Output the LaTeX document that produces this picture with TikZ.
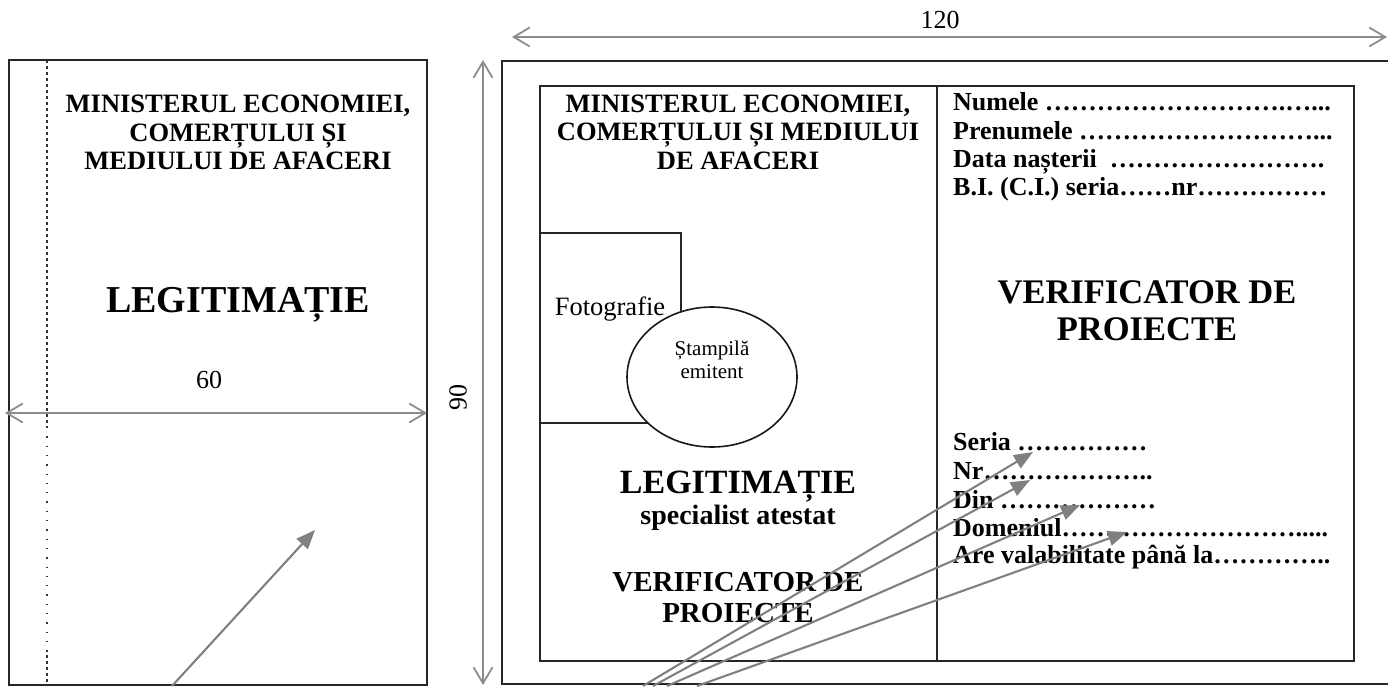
\documentclass[tikz,border=0pt]{standalone}
\usepackage{fontspec}
\setmainfont{Liberation Serif}
\usetikzlibrary{arrows.meta,shapes.geometric}
\begin{document}
\begin{tikzpicture}[x=1pt,y=-1pt,
  card/.style={draw=black!85, line width=1.9pt},
  inner/.style={draw=black!85, line width=1.6pt},
  dimline/.style={draw=black!45, line width=1.8pt, {Straight Barb[length=16pt,width=19pt]}-{Straight Barb[length=16pt,width=19pt]}},
  pointer/.style={draw=black!50, line width=2.1pt, -{Triangle[length=19pt,width=15pt]}},
  txt/.style={inner sep=0pt, anchor=base},
  head/.style={txt, font=\bfseries\fontsize{26.5}{28}\selectfont},
  field/.style={inner sep=0pt, anchor=base west, font=\bfseries\fontsize{26}{28}\selectfont},
  dimtxt/.style={txt, font=\fontsize{26}{28}\selectfont},
]
\useasboundingbox (0,0) rectangle (1388,686);

% ---------- left card ----------
\draw[card] (9,60) rectangle (427,685);
\draw[black!80, line width=1.4pt, dash pattern=on 3pt off 3pt] (47,60) -- (47,427);
\draw[black!80, line width=1.4pt, dash pattern=on 1.3pt off 8pt] (47,427) -- (47,655);
\draw[black!80, line width=1.4pt, dash pattern=on 3pt off 3pt] (47,655) -- (47,685);

\node[head] (lm1) at (238,112) {MINISTERUL ECONOMIEI,};
\node[head] (lm2) at (238,141) {COMERȚULUI ȘI};
\node[head] (lm3) at (238,169) {MEDIULUI DE AFACERI};
\node[txt, font=\bfseries\fontsize{38}{40}\selectfont] (llegit) at (238,312) {LEGITIMAȚIE};

\coordinate (d60a) at (5,413);
\coordinate (d60b) at (427,413);
\draw[dimline] (d60a) -- (d60b);
\node[dimtxt] (t60) at (209,388) {60};

% ---------- dimensions of right card ----------
\coordinate (d120a) at (512,37);
\coordinate (d120b) at (1387,37);
\draw[dimline] (d120a) -- (d120b);
\node[dimtxt] (t120) at (940,28) {120};

\coordinate (d90a) at (483,60);
\coordinate (d90b) at (483,685);
\draw[dimline] (d90a) -- (d90b);
\node[inner sep=0pt, font=\fontsize{26}{28}\selectfont, rotate=90] (t90) at (458,397) {90};

% ---------- right card ----------
\draw[card] (1395,61) -- (502,61) -- (502,684) -- (1395,684);
\draw[inner] (540,86) rectangle (1354,661);
\draw[inner] (937,86) -- (937,661);

% photo box
\draw[inner] (540,233) -- (681,233) -- (681,423) -- (540,423);
\node[txt, font=\fontsize{26.5}{28}\selectfont] (foto) at (610,315) {Fotografie};
\node[ellipse, draw=black!90, line width=1.6pt, fill=white, minimum width=170pt, minimum height=140pt, inner sep=0pt] (stamp) at (712,377) {};
\node[txt, font=\fontsize{21}{23}\selectfont] (st1) at (712,355) {Ștampilă};
\node[txt, font=\fontsize{21}{23}\selectfont] (st2) at (712,378) {emitent};

% left panel text
\node[head] (rm1) at (738,112) {MINISTERUL ECONOMIEI,};
\node[head] (rm2) at (738,140) {COMERȚULUI ȘI MEDIULUI};
\node[head] (rm3) at (738,169) {DE AFACERI};
\node[txt, font=\bfseries\fontsize{34}{36}\selectfont] (rlegit) at (738,493) {LEGITIMAȚIE};
\node[txt, font=\bfseries\fontsize{28}{30}\selectfont] (rspec) at (738,524) {specialist atestat};
\node[txt, font=\bfseries\fontsize{29}{31}\selectfont] (rv1) at (738,591) {VERIFICATOR DE};
\node[txt, font=\bfseries\fontsize{29}{31}\selectfont] (rv2) at (738,622) {PROIECTE};

% right panel text
\node[field] (f1) at (953,110) {Numele ……………………….…...};
\node[field] (f2) at (953,139) {Prenumele ………………………...};
\node[field] (f3) at (953,167) {Data nașterii \ …………………….};
\node[field] (f4) at (953,195) {B.I. (C.I.) seria……nr……………};
\node[txt, font=\bfseries\fontsize{34.5}{36}\selectfont] (v1) at (1147,303) {VERIFICATOR DE};
\node[txt, font=\bfseries\fontsize{34.5}{36}\selectfont] (v2) at (1147,340) {PROIECTE};

\node[field] (g1) at (953,450) {Seria ……………};
\node[field] (g2) at (953,479) {Nr………………..};
\node[field] (g3) at (953,508) {Din ………………};
\node[field] (g4) at (953,536) {Domeniul……………………….....};
\node[field] (g5) at (953,563) {Are valabilitate până la…………..};

% ---------- pointers ----------
\coordinate (p0s) at (172,686);
\coordinate (p0e) at (315,530);
\draw[pointer] (p0s) -- (p0e);

\coordinate (a1s) at (643,686);
\coordinate (a1e) at (1033,452);
\coordinate (a2s) at (653,686);
\coordinate (a2e) at (1030,480);
\coordinate (a3s) at (667,686);
\coordinate (a3e) at (1080,505);
\coordinate (a4s) at (697,686);
\coordinate (a4e) at (1127,532);
\draw[pointer] (a1s) -- (a1e);
\draw[pointer] (a2s) -- (a2e);
\draw[pointer] (a3s) -- (a3e);
\draw[pointer] (a4s) -- (a4e);
\end{tikzpicture}
\end{document}
